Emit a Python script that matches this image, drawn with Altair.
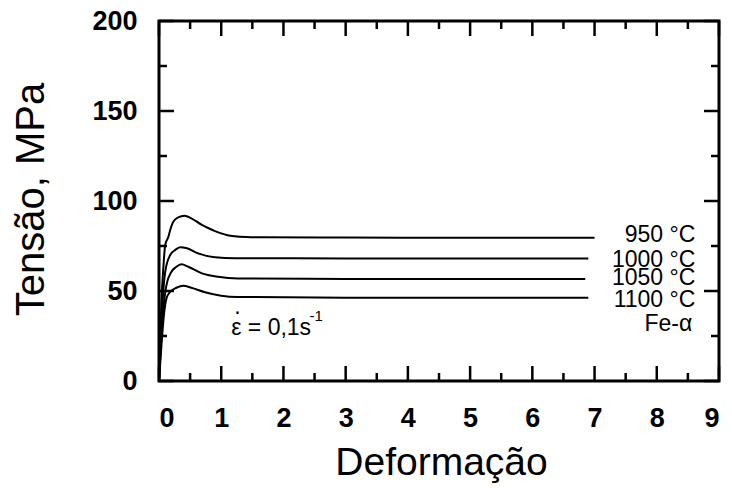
import altair as alt
import pandas as pd

# Flow-stress curves of alpha iron at a strain rate of 0.1 s^-1
temps = ["950 °C", "1000 °C", "1050 °C", "1100 °C"]

strain_950 = [0, 0.02, 0.04, 0.07, 0.10, 0.15, 0.18, 0.23, 0.31, 0.41, 0.52, 0.69, 0.79, 0.90, 1.00, 1.10, 1.22, 1.40, 1.70, 3.0, 5.0, 7.0]
stress_950 = [0, 25, 45, 63, 75.6, 80, 83.9, 88.5, 90.9, 91.8, 90.4, 86.7, 85.0, 83.3, 82.0, 81.0, 80.4, 80.0, 79.8, 79.7, 79.6, 79.6]

strain_1000 = [0, 0.03, 0.06, 0.10, 0.18, 0.26, 0.34, 0.45, 0.63, 0.90, 1.22, 3.0, 5.0, 6.9]
stress_1000 = [0, 22, 45, 60.7, 70, 72.8, 74.3, 73.7, 70.9, 68.7, 68.2, 68.1, 68.0, 68.0]

strain_1050 = [0, 0.03, 0.07, 0.12, 0.20, 0.28, 0.36, 0.47, 0.69, 0.95, 1.27, 3.0, 5.0, 6.85]
stress_1050 = [0, 20, 40, 53.3, 60.7, 63.5, 64.8, 63.5, 59.8, 57.9, 57, 56.7, 56.6, 56.6]

strain_1100 = [0, 0.04, 0.08, 0.12, 0.18, 0.28, 0.39, 0.52, 0.74, 1.00, 1.27, 3.0, 5.0, 6.9]
stress_1100 = [0, 20, 37, 45.9, 49.6, 51.8, 52.9, 51.8, 49.3, 47.4, 46.7, 46.3, 46.2, 46.2]

x_major = [0, 1, 2, 3, 4, 5, 6, 7, 8, 9]
x_minor = [0.5, 1.5, 2.5, 3.5, 4.5, 5.5, 6.5, 7.5, 8.5]
y_major = [0, 50, 100, 150, 200]
y_minor = [25, 75, 125, 175]

label_texts = ["950 °C", "1000 °C", "1050 °C", "1100 °C", "Fe-α"]
label_x = [8.62, 8.62, 8.62, 8.62, 8.57]
label_y = [81.1, 67.2, 57.2, 45.0, 31.7]

FONT = "Liberation Sans"

rows = []
for name, xs, ys in [
    (temps[0], strain_950, stress_950),
    (temps[1], strain_1000, stress_1000),
    (temps[2], strain_1050, stress_1050),
    (temps[3], strain_1100, stress_1100),
]:
    for xv, yv in zip(xs, ys):
        rows.append({"temp": name, "strain": xv, "stress": yv})
curves_df = pd.DataFrame(rows)

xscale = alt.Scale(domain=[0, 9], nice=False, zero=False)
yscale = alt.Scale(domain=[0, 200], nice=False)

x_axis = alt.Axis(
    values=x_major, format="d", ticks=False, domain=False, grid=False,
    labelFont=FONT, labelFontSize=27, labelFontWeight="bold", labelColor="black",
    labelPadding=24, labelBaseline="top",
    title="Deformação", titleFont=FONT, titleFontSize=39, titleFontWeight="normal",
    titleColor="black", titleX=282, titleY=81, titleBaseline="middle",
    titleAnchor="middle", titleAlign="center",
)
y_axis = alt.Axis(
    values=y_major, format="d", ticks=False, domain=False, grid=False,
    labelFont=FONT, labelFontSize=27, labelFontWeight="bold", labelColor="black",
    labelPadding=22,
    title="Tensão, MPa", titleFont=FONT, titleFontSize=40, titleFontWeight="normal",
    titleColor="black", titleAngle=-90, titleX=-128, titleY=178,
    titleBaseline="middle", titleAlign="center",
)

curves = alt.Chart(curves_df).mark_line(
    color="black", strokeWidth=2, interpolate="monotone"
).encode(
    x=alt.X("strain:Q", scale=xscale, axis=x_axis),
    y=alt.Y("stress:Q", scale=yscale, axis=y_axis),
    detail="temp:N",
)

# Inward ticks on all four sides of the frame
def xticks(values, length):
    df = pd.DataFrame({"v": values})
    base = alt.Chart(df).mark_rule(color="black", strokeWidth=2.5)
    bottom = base.encode(x=alt.X("v:Q", scale=xscale), y=alt.value(360), y2=alt.value(360 - length))
    top = base.encode(x=alt.X("v:Q", scale=xscale), y=alt.value(0), y2=alt.value(length))
    return bottom + top

def yticks(values, length):
    df = pd.DataFrame({"v": values})
    base = alt.Chart(df).mark_rule(color="black", strokeWidth=2.5)
    left = base.encode(y=alt.Y("v:Q", scale=yscale), x=alt.value(0), x2=alt.value(length))
    right = base.encode(y=alt.Y("v:Q", scale=yscale), x=alt.value(560), x2=alt.value(560 - length))
    return left + right

labels_df = pd.DataFrame({"t": label_texts, "x": label_x, "y": label_y})
labels = alt.Chart(labels_df).mark_text(
    align="right", baseline="middle", font=FONT, fontSize=23, color="black"
).encode(
    x=alt.X("x:Q", scale=xscale), y=alt.Y("y:Q", scale=yscale), text="t:N"
)

# Strain-rate annotation: epsilon with a dot above, and the -1 exponent
rate_df = pd.DataFrame({"t": ["ε = 0,1s"], "x": [1.16], "y": [29.4]})
rate = alt.Chart(rate_df).mark_text(
    align="left", baseline="middle", font=FONT, fontSize=23, color="black"
).encode(
    x=alt.X("x:Q", scale=xscale), y=alt.Y("y:Q", scale=yscale), text="t:N"
)
dot_df = pd.DataFrame({"t": ["."], "x": [1.26], "y": [37.0]})
dot = alt.Chart(dot_df).mark_text(
    align="center", baseline="alphabetic", font=FONT, fontSize=23, color="black"
).encode(
    x=alt.X("x:Q", scale=xscale), y=alt.Y("y:Q", scale=yscale), text="t:N"
)
sup_df = pd.DataFrame({"t": ["-1"], "x": [2.42], "y": [36.0]})
sup = alt.Chart(sup_df).mark_text(
    align="left", baseline="middle", font=FONT, fontSize=15, color="black"
).encode(
    x=alt.X("x:Q", scale=xscale), y=alt.Y("y:Q", scale=yscale), text="t:N"
)

chart = alt.layer(
    curves,
    xticks(x_major, 15), xticks(x_minor, 8),
    yticks(y_major, 15), yticks(y_minor, 8),
    labels, rate, dot, sup,
).properties(
    width=560, height=360,
    autosize="none",
    padding={"left": 159, "top": 21, "right": 13, "bottom": 107},
    background="white",
).configure_view(
    stroke="black", strokeWidth=3
)

chart.save("out.html", embed_options={"renderer": "svg", "actions": False})
